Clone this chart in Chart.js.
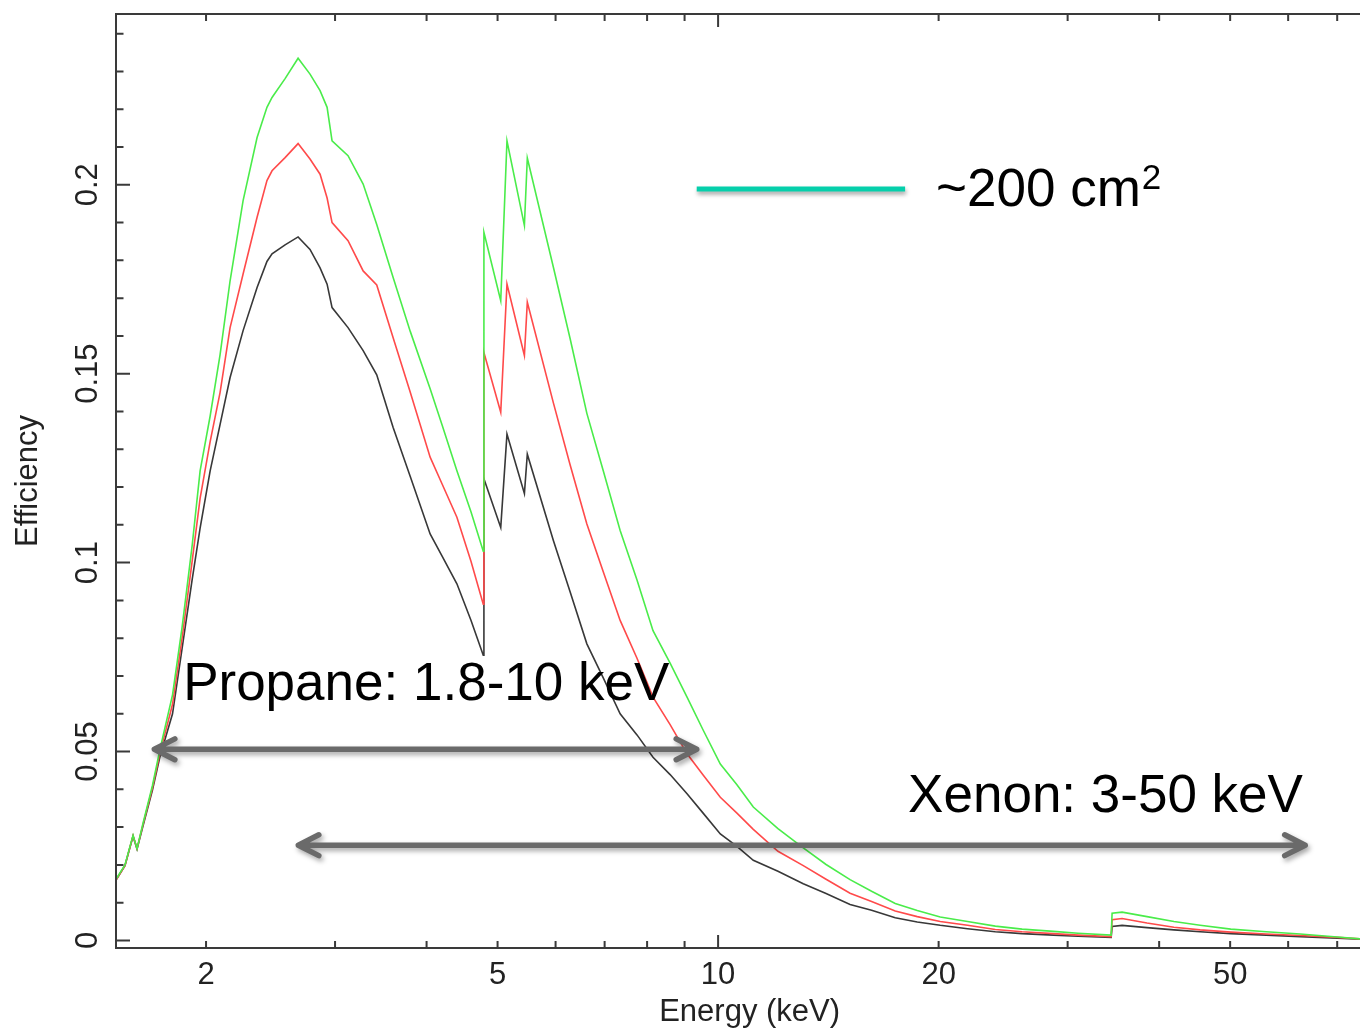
<!DOCTYPE html>
<html>
<head>
<meta charset="utf-8">
<script src="https://cdn.jsdelivr.net/npm/chart.js@4.4.1/dist/chart.umd.min.js"></script>
<style>
html,body{margin:0;padding:0;background:#fff;}
#wrap{width:1360px;height:1032px;overflow:hidden;}
</style>
</head>
<body>
<div id="wrap"><canvas id="grafico" width="1360" height="1032"></canvas></div>
<script>
// DADOS (energia em keV, eficiencia)
const energy = [1.507,1.55,1.59,1.61,1.64,1.69,1.73,1.80,1.855,1.915,
  1.963,2.026,2.09,2.157,2.247,2.348,2.422,2.461,2.564,2.671,
  2.773,2.862,2.926,2.972,3.125,3.277,3.42,3.60,3.80,4.045,
  4.20,4.40,4.60,4.78,4.79,5.05,5.15,5.44,5.49,5.96,
  6.28,6.62,6.97,7.35,7.75,8.15,8.60,9.07,9.54,10.07,
  10.61,11.17,12.07,13.07,14.04,15.14,16.2,17.45,18.7,20.1,
  21.9,23.9,26.0,28.7,31.0,34.4,34.5,35.6,38.5,41.9,
  45.5,50.1,56.0,62.3,70.0,75.3,80.9];

const effBlack = [0.0160,0.0198,0.0276,0.0242,0.0302,0.0398,0.0486,0.0600,0.0773,0.0956,
  0.1091,0.1243,0.1365,0.1490,0.1614,0.1728,0.1797,0.1817,0.1841,0.1862,
  0.1829,0.1780,0.1737,0.1675,0.1622,0.1561,0.1497,0.1358,0.1228,0.1076,
  0.1017,0.0944,0.0847,0.0755,0.1222,0.1093,0.1340,0.1183,0.1287,0.1058,
  0.0923,0.0785,0.0695,0.0600,0.0544,0.0485,0.0439,0.0388,0.0337,0.0282,
  0.0249,0.0212,0.0183,0.0150,0.0124,0.0095,0.0080,0.0060,0.0049,0.0040,
  0.0031,0.0023,0.0018,0.0014,0.0011,0.0008,0.0037,0.0040,0.0034,0.0028,
  0.0023,0.0018,0.0014,0.0010,0.0006,0.0003,0.0001];

const effRed = [0.0160,0.0198,0.0277,0.0243,0.0306,0.0404,0.0495,0.0625,0.0800,0.1005,
  0.1170,0.1320,0.1450,0.1622,0.1764,0.1914,0.2011,0.2037,0.2072,0.2109,
  0.2068,0.2028,0.1965,0.1900,0.1852,0.1772,0.1735,0.1596,0.1451,0.1279,
  0.1208,0.1120,0.1003,0.0890,0.1556,0.1398,0.1737,0.1548,0.1689,0.1422,
  0.1259,0.1102,0.0976,0.0847,0.0747,0.0644,0.0571,0.0494,0.0438,0.0379,
  0.0337,0.0294,0.0236,0.0198,0.0162,0.0125,0.0103,0.0078,0.0063,0.0050,
  0.0040,0.0029,0.0023,0.0018,0.0014,0.0010,0.0055,0.0058,0.0046,0.0035,
  0.0028,0.0022,0.0017,0.0013,0.0008,0.0004,0.0002];

const effGreen = [0.0162,0.0200,0.0278,0.0243,0.0309,0.0410,0.0505,0.0650,0.0829,0.1047,
  0.1243,0.1388,0.1550,0.1746,0.1958,0.2125,0.2205,0.2231,0.2281,0.2335,
  0.2293,0.2249,0.2205,0.2116,0.2077,0.2002,0.1895,0.1755,0.1612,0.1460,
  0.1364,0.1243,0.1134,0.1030,0.1874,0.1693,0.2116,0.1892,0.2071,0.1781,
  0.1593,0.1395,0.1243,0.1085,0.0954,0.0820,0.0734,0.0644,0.0557,0.0467,
  0.0412,0.0353,0.0296,0.0245,0.0201,0.0161,0.0130,0.0098,0.0079,0.0062,
  0.0050,0.0038,0.0030,0.0024,0.0019,0.0014,0.0072,0.0075,0.0063,0.0050,
  0.0040,0.0030,0.0023,0.0017,0.0009,0.0004,0.0002];

// EIXOS
const xMin = 1.507, xMax = 75.2, xFullMax = 80.9;   // o grafico original vai ate ~81 keV (cortado)
const xLabelTicks = [2,5,10,20,50];
const xMinorTicks = [2,3,4,5,6,7,8,9,20,30,40,50,60,70];
const xMajorTicks = [10];
const yLabelTicks = [0,0.05,0.1,0.15,0.2];
const yTickLabels = ['0','0.05','0.1','0.15','0.2'];

// ANOTACOES (coordenadas em energia / eficiencia)
const arrows = [
  {from:[1.70,0.0506], to:[9.35,0.0506]},
  {from:[2.673,0.0252], to:[63.3,0.0252]}
];
const notes = [
  {text:'Propane: 1.8-10 keV', at:[1.861,0.0637]},
  {text:'Xenon: 3-50 keV', at:[18.17,0.0340]}
];
const keyLine = {from:[9.35,0.1989], to:[18.0,0.1989], text:'~200 cm', sup:'2', at:[19.84,0.1944]};

const FONT = '"Liberation Sans", Arial, Helvetica, sans-serif';

function pts(arr){ return energy.map((e,i)=>({x:e, y:arr[i]})); }

// MOLDURA + TICKS
const frame = {
  id:'frame',
  afterDatasetsDraw(chart){
    const {ctx, chartArea:a, scales:{x,y}} = chart;
    ctx.save();
    ctx.strokeStyle = '#3a3a3a';
    ctx.lineWidth = 2;
    ctx.beginPath();
    ctx.moveTo(a.right+5,a.top); ctx.lineTo(a.left,a.top);
    ctx.lineTo(a.left,a.bottom); ctx.lineTo(a.right+5,a.bottom);
    ctx.stroke();

    ctx.beginPath();
    for(let i=0;i<=24;i++){
      const py = y.getPixelForValue(i/100);
      const len = i%5===0 ? 14 : 7.5;
      ctx.moveTo(a.left,py); ctx.lineTo(a.left+len,py);
    }
    xMinorTicks.forEach(v=>{
      const px = x.getPixelForValue(v);
      ctx.moveTo(px,a.bottom); ctx.lineTo(px,a.bottom-7);
      ctx.moveTo(px,a.top); ctx.lineTo(px,a.top+7);
    });
    xMajorTicks.forEach(v=>{
      const px = x.getPixelForValue(v);
      ctx.moveTo(px,a.bottom); ctx.lineTo(px,a.bottom-13);
      ctx.moveTo(px,a.top); ctx.lineTo(px,a.top+13);
    });
    ctx.stroke();

    ctx.fillStyle = '#222';
    ctx.font = '31px ' + FONT;
    ctx.textAlign = 'center';
    ctx.textBaseline = 'alphabetic';
    xLabelTicks.forEach(v=>{
      ctx.fillText(String(v), x.getPixelForValue(v), a.bottom+36);
    });
    // titulo centrado no eixo completo (1.5 - 81 keV)
    ctx.fillText('Energy (keV)', x.getPixelForValue(Math.sqrt(xMin*xFullMax)), a.bottom+73);

    yLabelTicks.forEach((v,i)=>{
      ctx.save();
      ctx.translate(a.left-19, y.getPixelForValue(v));
      ctx.rotate(-Math.PI/2);
      ctx.fillText(yTickLabels[i],0,0);
      ctx.restore();
    });
    ctx.save();
    ctx.translate(37,(a.top+a.bottom)/2);
    ctx.rotate(-Math.PI/2);
    ctx.fillText('Efficiency',0,0);
    ctx.restore();
    ctx.restore();
  }
};

// SETAS E TEXTOS
const overlay = {
  id:'overlay',
  afterDraw(chart){
    const {ctx, scales:{x,y}} = chart;
    const P = c => [x.getPixelForValue(c[0]), y.getPixelForValue(c[1])];
    ctx.save();
    ctx.shadowColor = 'rgba(0,0,0,0.35)';
    ctx.shadowBlur = 5;
    ctx.shadowOffsetX = 2;
    ctx.shadowOffsetY = 3;
    ctx.strokeStyle = '#6a6a6a';
    ctx.lineWidth = 5.5;
    ctx.lineCap = 'round';
    ctx.lineJoin = 'round';
    arrows.forEach(ar=>{
      const [x1,y1] = P(ar.from), [x2,y2] = P(ar.to);
      const ang = Math.atan2(y2-y1,x2-x1), L = 23, w = 0.47;
      ctx.beginPath();
      ctx.moveTo(x1,y1); ctx.lineTo(x2,y2);
      ctx.moveTo(x1+L*Math.cos(ang-w), y1+L*Math.sin(ang-w)); ctx.lineTo(x1,y1);
      ctx.lineTo(x1+L*Math.cos(ang+w), y1+L*Math.sin(ang+w));
      ctx.moveTo(x2-L*Math.cos(ang-w), y2-L*Math.sin(ang-w)); ctx.lineTo(x2,y2);
      ctx.lineTo(x2-L*Math.cos(ang+w), y2-L*Math.sin(ang+w));
      ctx.stroke();
    });
    // linha da legenda
    const [k1,ky] = P(keyLine.from), [k2] = P(keyLine.to);
    ctx.strokeStyle = '#05cfab';
    ctx.lineWidth = 5;
    ctx.lineCap = 'butt';
    ctx.shadowBlur = 4; ctx.shadowOffsetX = 1; ctx.shadowOffsetY = 3;
    ctx.beginPath(); ctx.moveTo(k1,ky); ctx.lineTo(k2,ky); ctx.stroke();
    ctx.restore();

    ctx.save();
    ctx.fillStyle = '#000';
    ctx.font = '53px ' + FONT;
    ctx.textAlign = 'left';
    ctx.textBaseline = 'alphabetic';
    notes.forEach(n=>{
      const [tx,ty] = P(n.at);
      ctx.fillText(n.text, tx, ty);
    });
    const [sx,sy] = P(keyLine.at);
    ctx.fillText(keyLine.text, sx, sy);
    const wTxt = ctx.measureText(keyLine.text).width;
    ctx.font = '35px ' + FONT;
    ctx.fillText(keyLine.sup, sx+wTxt+1, sy-17);
    ctx.restore();
  }
};

const ctx = document.getElementById('grafico').getContext('2d');
const lineBase = {borderWidth:1.6, pointRadius:0, tension:0, fill:false};
new Chart(ctx,{
  type:'line',
  data:{
    datasets:[
      {...lineBase, label:'green', data:pts(effGreen), borderColor:'#4aec4a'},
      {...lineBase, label:'red', data:pts(effRed), borderColor:'#ff4a4a'},
      {...lineBase, label:'black', data:pts(effBlack), borderColor:'#383838'}
    ]
  },
  options:{
    responsive:false,
    animation:false,
    layout:{padding:{left:116, top:14, right:0, bottom:84}},
    plugins:{legend:{display:false}, tooltip:{enabled:false}},
    scales:{
      x:{type:'logarithmic', min:xMin, max:xMax, display:false},
      y:{type:'linear', min:-0.002, max:0.2452, display:false}
    }
  },
  plugins:[frame, overlay]
});
</script>
</body>
</html>
